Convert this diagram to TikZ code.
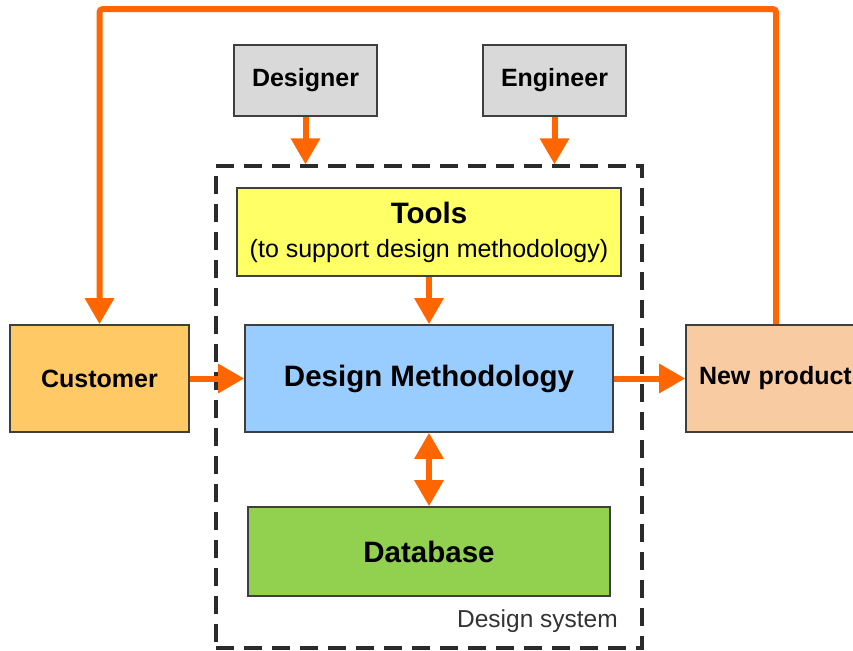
\documentclass[tikz,border=0pt]{standalone}
\usepackage{fontspec}
\setmainfont{Liberation Sans}
\usetikzlibrary{arrows.meta}

\definecolor{flow}{HTML}{FF6600}
\definecolor{edgegray}{HTML}{3F3F3F}
\definecolor{dashgray}{HTML}{2B2B2B}
\definecolor{persongray}{HTML}{D9D9D9}
\definecolor{toolyellow}{HTML}{FFFF66}
\definecolor{methodblue}{HTML}{99CCFF}
\definecolor{customerorange}{HTML}{FFC966}
\definecolor{productpeach}{HTML}{F9CBA3}
\definecolor{dbgreen}{HTML}{92D050}

\begin{document}
\begin{tikzpicture}[x=1pt,y=-1pt,
			box/.style={draw=edgegray,line width=1.6pt,inner sep=0pt,align=center,
				font=\fontsize{25}{30}\selectfont\bfseries},
			big/.style={font=\fontsize{29.5}{35}\selectfont\bfseries},
			person/.style={box,fill=persongray,minimum width=143pt,minimum height=71pt},
			flowline/.style={flow,line width=6pt,-{Triangle[width=28pt,length=26pt]}},
			both/.style={flowline,{Triangle[width=28pt,length=26pt]}-{Triangle[width=28pt,length=26pt]}},
			system/.style={draw=dashgray,line width=3.2pt,dash pattern=on 18pt off 10pt}
			]
		\useasboundingbox (0,0) rectangle (853,650);
		%\draw[step=50, color=gray] (0,0) grid (853,650);
		\node [system,minimum width=426pt,minimum height=482pt,inner sep=0pt] (sys) at (429,407) {};
		\node [anchor=south east,inner sep=0pt,font=\fontsize{24.5}{29}\selectfont,text=black!80] (syslabel) at (618,633) {Design system};

		\node [person] (designer) at (305.5,80.5) {Designer};
		\node [person] (engineer) at (554.5,80.5) {Engineer};

		\node [box,fill=toolyellow,minimum width=384pt,minimum height=88pt] (tools) at (429,232)
			{{\fontsize{29.5}{35}\selectfont Tools}\\[4pt]\mdseries (to support design methodology)};
		\node [box,big,fill=methodblue,minimum width=368pt,minimum height=107pt] (method) at (429,378.5) {Design Methodology};
		\node [box,fill=customerorange,minimum width=179pt,minimum height=107pt] (customer) at (99.5,378.5) {Customer};
		\node [box,fill=productpeach,minimum width=180pt,minimum height=107pt,text width=154pt,align=left] (product) at (776,378.5) {New product};
		\node [box,big,fill=dbgreen,minimum width=362pt,minimum height=89pt] (database) at (429,551.5) {Database};

		\draw [flowline] (designer.south) -- (designer.south |- sys.north);
		\draw [flowline] (engineer.south) -- (engineer.south |- sys.north);
		\draw [flowline] (tools.south) -- (method.north);
		\draw [flowline] (customer.east) -- (method.west);
		\draw [flowline] (method.east) -- (product.west);
		\draw [both] (method.south) -- (database.north);
		% feedback from the product back to the customer
		\draw [flowline,rounded corners=3pt] (product.north) -- ++(0,-315) -| (customer.north);
\end{tikzpicture}
\end{document}
